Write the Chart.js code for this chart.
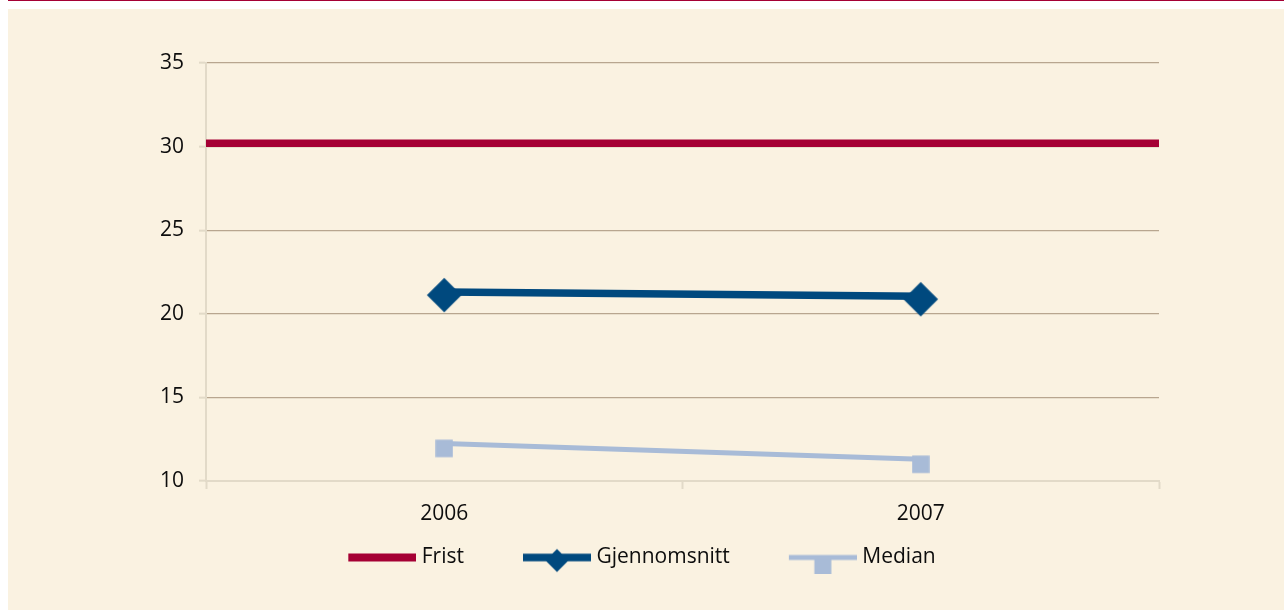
<!DOCTYPE html>
<html><head><meta charset="utf-8">
<script src="https://cdn.jsdelivr.net/npm/chart.js@4.4.1/dist/chart.umd.min.js"></script>
<style>
html,body{margin:0;padding:0;background:#fff;width:1284px;height:610px;overflow:hidden}
#topline{position:absolute;left:8px;top:0;width:1276px;height:1px;background:#a50034}
#panel{position:absolute;left:8px;top:9px;width:1276px;height:601px;background:#faf2e1}
canvas{display:block}
</style></head><body>
<div id="topline"></div>
<div id="panel"><canvas id="c" width="1276" height="601"></canvas></div>
<script>
// ---- data ----
const years = ['2006', '2007'];
const seriesNames = ['Frist', 'Gjennomsnitt', 'Median'];
const frist = [30.2, 30.2];
const gjennomsnitt = [21.3, 21.05];
const median = [12.25, 11.3];
const yMin = 10, yMax = 35, yStep = 5;

// ---- styles ----
const FONT = 'Open Sans';
const FSIZE = 21;
const RED = '#a50034', BLUE = '#00497e', LIGHTBLUE = '#a8bbd7';
const GRID = '#b8a68f', AXIS = '#e2dac8', TEXT = '#0d0d0d';

function makeCanvas(w, h, fn) {
  const c = document.createElement('canvas');
  c.width = w; c.height = h;
  fn(c.getContext('2d'));
  return c;
}
function diamond(ctx, cx, cy, r, color) {
  ctx.fillStyle = color;
  ctx.beginPath();
  ctx.moveTo(cx, cy - r); ctx.lineTo(cx + r, cy); ctx.lineTo(cx, cy + r); ctx.lineTo(cx - r, cy);
  ctx.closePath(); ctx.fill();
}
// plot markers (drawn slightly below the line, as in the original export)
const diamondImg = makeCanvas(36, 42, ctx => diamond(ctx, 18, 24, 17.3, BLUE));
const squareImg = makeCanvas(18, 30, ctx => { ctx.fillStyle = LIGHTBLUE; ctx.fillRect(0.25, 11.25, 17.5, 17.5); });

// legend symbols (left transparent margin L creates spacing between items)
const L = 54, LW = 68, IW = L + LW;
const legFrist = makeCanvas(IW, 24, ctx => { ctx.fillStyle = RED; ctx.fillRect(L, 8, LW, 8); });
const legGjen = makeCanvas(IW, 32, ctx => {
  ctx.fillStyle = BLUE; ctx.fillRect(L, 12.2, LW, 7.6);
  diamond(ctx, L + LW / 2, 19, 11.5, BLUE);
});
const legMed = makeCanvas(IW, 32, ctx => {
  ctx.fillStyle = LIGHTBLUE; ctx.fillRect(L, 13.5, LW, 5);
  ctx.fillRect(L + LW / 2 - 8.5, 14, 17, 18);
});
const legendImgs = [legFrist, legGjen, legMed];

const xMin = -0.5, xMax = years.length - 0.5;

function draw() {
  new Chart(document.getElementById('c'), {
    type: 'line',
    data: {
      datasets: [
        { label: seriesNames[0], data: [{x: xMin, y: frist[0]}, {x: xMax, y: frist[1]}],
          borderColor: RED, backgroundColor: RED, borderWidth: 7.6, pointRadius: 0, fill: false, tension: 0 },
        { label: seriesNames[1], data: gjennomsnitt.map((v, i) => ({x: i, y: v})),
          borderColor: BLUE, backgroundColor: BLUE, borderWidth: 7.6, pointStyle: diamondImg, pointRadius: 17, fill: false, tension: 0 },
        { label: seriesNames[2], data: median.map((v, i) => ({x: i, y: v})),
          borderColor: LIGHTBLUE, backgroundColor: LIGHTBLUE, borderWidth: 5, pointStyle: squareImg, pointRadius: 9, fill: false, tension: 0 }
      ]
    },
    options: {
      responsive: false,
      animation: false,
      layout: { padding: { left: 0, right: 57, top: 54, bottom: 32 } },
      plugins: {
        tooltip: { enabled: false },
        legend: {
          position: 'bottom',
          labels: {
            usePointStyle: true,
            pointStyleWidth: IW - 10,
            padding: 10,
            color: TEXT,
            font: { family: FONT, size: FSIZE },
            generateLabels(chart) {
              const items = Chart.defaults.plugins.legend.labels.generateLabels(chart);
              items.forEach((it, i) => { it.pointStyle = legendImgs[i]; it.fontColor = TEXT; });
              return items;
            }
          }
        }
      },
      scales: {
        x: {
          type: 'linear', min: xMin, max: xMax,
          afterFit: s => { s.height = 56; },
          ticks: {
            stepSize: 0.5, autoSkip: false, maxRotation: 0, padding: 12,
            color: TEXT, font: { family: FONT, size: FSIZE },
            callback: v => (Number.isInteger(v) && years[v] !== undefined) ? years[v] : ''
          },
          grid: {
            drawOnChartArea: false, drawTicks: true, tickLength: 8, tickWidth: 2,
            tickColor: c => (c.tick && Number.isInteger(c.tick.value)) ? 'rgba(0,0,0,0)' : AXIS
          },
          border: { display: true, color: AXIS, width: 2 }
        },
        y: {
          min: yMin, max: yMax,
          afterFit: s => { s.width = 198; },
          ticks: { stepSize: yStep, padding: 15, color: TEXT, font: { family: FONT, size: FSIZE } },
          grid: {
            color: c => (c.tick && c.tick.value === yMin) ? 'rgba(0,0,0,0)' : GRID,
            lineWidth: 1.3, tickLength: 7, tickWidth: 2, tickColor: AXIS
          },
          border: { display: true, color: AXIS, width: 2 }
        },
        y2: {
          position: 'right', display: true,
          afterFit: s => { s.width = 68; },
          ticks: { display: false }, grid: { display: false }, border: { display: false }
        }
      }
    }
  });
}
if (document.fonts && document.fonts.load) {
  document.fonts.load('21px "Open Sans"').then(draw, draw);
} else { draw(); }
</script>
</body></html>
